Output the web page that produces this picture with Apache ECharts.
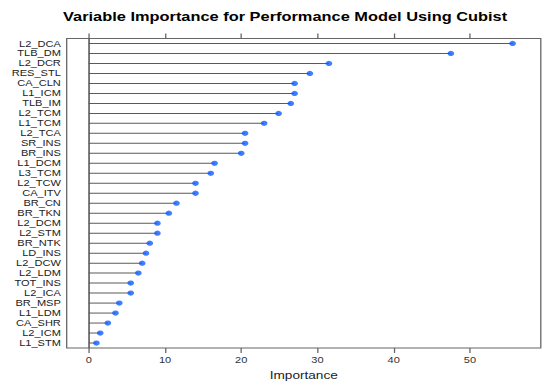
<!DOCTYPE html>
<html>
<head>
<meta charset="utf-8">
<script src="https://cdn.jsdelivr.net/npm/echarts@6/dist/echarts.min.js"></script>
<style>
html, body { margin: 0; padding: 0; background: #fff; overflow: hidden; }
#chart { width: 419.2px; height: 386px; transform: scaleX(1.3); transform-origin: 0 0; }
</style>
</head>
<body>
<div id="chart"></div>
<script>
// Data (top row first)
const variables = ["L2_DCA","TLB_DM","L2_DCR","RES_STL","CA_CLN","L1_ICM","TLB_IM","L2_TCM","L1_TCM","L2_TCA",
  "SR_INS","BR_INS","L1_DCM","L3_TCM","L2_TCW","CA_ITV","BR_CN","BR_TKN","L2_DCM","L2_STM",
  "BR_NTK","LD_INS","L2_DCW","L2_LDM","TOT_INS","L2_ICA","BR_MSP","L1_LDM","CA_SHR","L2_ICM","L1_STM"];
const importance = [55.6,47.5,31.5,29.0,27.0,27.0,26.5,24.9,23.0,20.5,
  20.5,20.0,16.5,16.0,14.0,14.0,11.5,10.5,9.0,9.0,
  8.0,7.5,7.0,6.5,5.5,5.5,4.0,3.5,2.5,1.5,1.0];
const tickValues = [0, 10, 20, 30, 40, 50];
const chartTitle = "Variable Importance for Performance Model Using Cubist";
const xTitle = "Importance";

const FONT = "'Liberation Sans', Arial, Helvetica, sans-serif";
const chart = echarts.init(document.getElementById('chart'), null, { renderer: 'svg' });
const xMin = -2.9, xMax = 59.3;

chart.setOption({
  animation: false,
  backgroundColor: '#fff',
  title: {
    text: chartTitle,
    left: 43.5,
    top: 5,
    textStyle: { fontFamily: FONT, fontSize: 12.6, fontWeight: 'bold', color: '#000' }
  },
  grid: {
    left: 51.3, right: 3, top: 38.5, bottom: 36.3,
    show: true, borderColor: '#666', borderWidth: 1, backgroundColor: 'transparent'
  },
  xAxis: [
    {
      type: 'value', position: 'bottom', min: xMin, max: xMax,
      name: xTitle, nameLocation: 'middle', nameGap: 22,
      nameTextStyle: { fontFamily: FONT, fontSize: 10.5, color: '#222' },
      axisLine: { show: false },
      axisTick: { show: true, inside: false, length: 5, lineStyle: { color: '#666' }, customValues: tickValues },
      axisLabel: { show: true, margin: 7.5, fontFamily: FONT, fontSize: 8.5, color: '#333', customValues: tickValues },
      splitLine: { show: false }
    },
    {
      type: 'value', position: 'top', min: xMin, max: xMax,
      axisLine: { show: false },
      axisTick: { show: true, inside: false, length: 5, lineStyle: { color: '#666' }, customValues: tickValues },
      axisLabel: { show: false },
      splitLine: { show: false }
    }
  ],
  yAxis: {
    type: 'category', data: variables, inverse: true,
    axisLine: { show: false }, axisTick: { show: false },
    axisLabel: { margin: 4.5, fontFamily: FONT, fontSize: 8.5, color: '#222', interval: 0 },
    splitLine: { show: false }
  },
  series: [
    {
      type: 'bar', data: importance, barWidth: 1, xAxisIndex: 0,
      itemStyle: { color: '#5a5a5a' }, silent: true,
      markLine: {
        silent: true, symbol: 'none', label: { show: false },
        lineStyle: { color: '#555', width: 1.2, type: 'solid' },
        data: [{ xAxis: 0 }]
      }
    },
    {
      type: 'scatter', data: importance, xAxisIndex: 0,
      symbol: 'circle', symbolSize: 5.2,
      itemStyle: { color: '#0f5fff' }, silent: true, z: 5
    }
  ]
});
</script>
</body>
</html>
